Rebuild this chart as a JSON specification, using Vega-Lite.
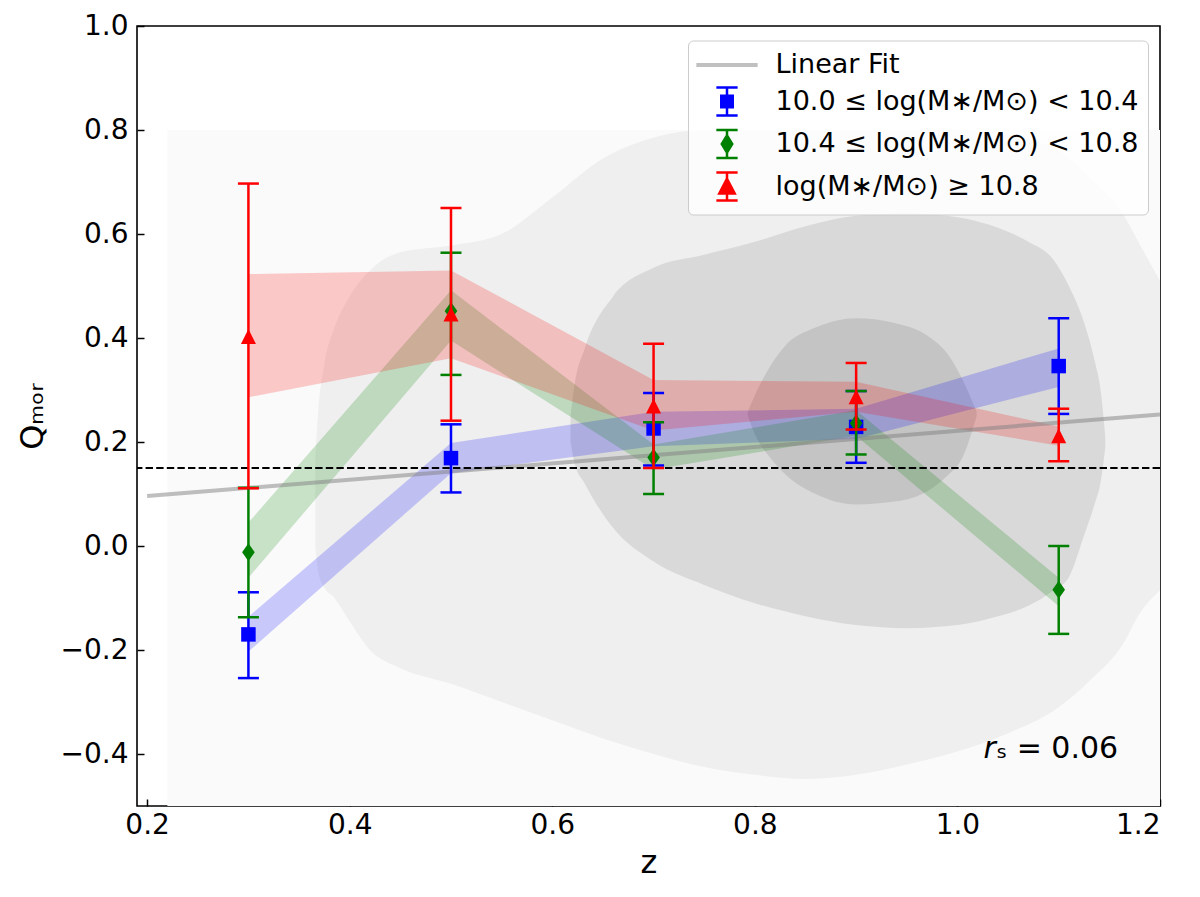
{
  "$schema": "https://vega.github.io/schema/vega-lite/v6.json",
  "width": 1023,
  "height": 780,
  "autosize": {"type": "none"},
  "padding": {"left": 137, "top": 26, "right": 40, "bottom": 91},
  "background": "white",
  "config": {
    "view": {"stroke": "black", "strokeWidth": 1.6},
    "font": "DejaVu Sans",
    "axis": {
      "domain": false, "grid": false, "tickSize": -7, "tickWidth": 1.5, "tickColor": "black",
      "labelFont": "DejaVu Sans", "labelFontSize": 28, "labelColor": "black",
      "titleFont": "DejaVu Sans", "titleFontSize": 32, "titleFontWeight": "normal", "titleColor": "black"
    },
    "axisX": {"labelPadding": 12},
    "axisY": {"labelPadding": 16}
  },
  "datasets": {
    "contours": [
      {"level": 1, "z": 0.22, "top": 0.8, "bot": -0.5},
      {"level": 1, "z": 1.2, "top": 0.8, "bot": -0.5},
      {"level": 2, "z": 0.366, "top": 0.17, "bot": 0.0},
      {"level": 2, "z": 0.369, "top": 0.26, "bot": -0.05},
      {"level": 2, "z": 0.375, "top": 0.35, "bot": -0.08},
      {"level": 2, "z": 0.385, "top": 0.42, "bot": -0.10},
      {"level": 2, "z": 0.40, "top": 0.48, "bot": -0.145},
      {"level": 2, "z": 0.42, "top": 0.53, "bot": -0.20},
      {"level": 2, "z": 0.45, "top": 0.565, "bot": -0.235},
      {"level": 2, "z": 0.50, "top": 0.578, "bot": -0.265},
      {"level": 2, "z": 0.55, "top": 0.60, "bot": -0.30},
      {"level": 2, "z": 0.60, "top": 0.67, "bot": -0.335},
      {"level": 2, "z": 0.65, "top": 0.745, "bot": -0.37},
      {"level": 2, "z": 0.70, "top": 0.785, "bot": -0.40},
      {"level": 2, "z": 0.75, "top": 0.80, "bot": -0.425},
      {"level": 2, "z": 0.80, "top": 0.80, "bot": -0.44},
      {"level": 2, "z": 0.85, "top": 0.80, "bot": -0.448},
      {"level": 2, "z": 0.90, "top": 0.80, "bot": -0.44},
      {"level": 2, "z": 0.95, "top": 0.80, "bot": -0.42},
      {"level": 2, "z": 1.00, "top": 0.80, "bot": -0.395},
      {"level": 2, "z": 1.05, "top": 0.79, "bot": -0.36},
      {"level": 2, "z": 1.10, "top": 0.76, "bot": -0.31},
      {"level": 2, "z": 1.13, "top": 0.71, "bot": -0.26},
      {"level": 2, "z": 1.163, "top": 0.64, "bot": -0.19},
      {"level": 2, "z": 1.18, "top": 0.58, "bot": -0.13},
      {"level": 2, "z": 1.20, "top": 0.51, "bot": -0.085},
      {"level": 3, "z": 0.618, "top": 0.25, "bot": 0.20},
      {"level": 3, "z": 0.622, "top": 0.31, "bot": 0.16},
      {"level": 3, "z": 0.632, "top": 0.38, "bot": 0.12},
      {"level": 3, "z": 0.66, "top": 0.48, "bot": 0.035},
      {"level": 3, "z": 0.70, "top": 0.535, "bot": -0.03},
      {"level": 3, "z": 0.75, "top": 0.56, "bot": -0.075},
      {"level": 3, "z": 0.80, "top": 0.585, "bot": -0.11},
      {"level": 3, "z": 0.85, "top": 0.615, "bot": -0.135},
      {"level": 3, "z": 0.90, "top": 0.635, "bot": -0.152},
      {"level": 3, "z": 0.95, "top": 0.64, "bot": -0.158},
      {"level": 3, "z": 1.00, "top": 0.632, "bot": -0.152},
      {"level": 3, "z": 1.04, "top": 0.612, "bot": -0.135},
      {"level": 3, "z": 1.07, "top": 0.585, "bot": -0.115},
      {"level": 3, "z": 1.095, "top": 0.55, "bot": -0.085},
      {"level": 3, "z": 1.11, "top": 0.50, "bot": -0.06},
      {"level": 3, "z": 1.125, "top": 0.43, "bot": 0.02},
      {"level": 3, "z": 1.135, "top": 0.36, "bot": 0.078},
      {"level": 3, "z": 1.142, "top": 0.29, "bot": 0.13},
      {"level": 3, "z": 1.146, "top": 0.21, "bot": 0.19},
      {"level": 4, "z": 0.793, "top": 0.258, "bot": 0.25},
      {"level": 4, "z": 0.80, "top": 0.29, "bot": 0.215},
      {"level": 4, "z": 0.815, "top": 0.345, "bot": 0.17},
      {"level": 4, "z": 0.83, "top": 0.385, "bot": 0.138},
      {"level": 4, "z": 0.86, "top": 0.42, "bot": 0.10},
      {"level": 4, "z": 0.90, "top": 0.438, "bot": 0.08},
      {"level": 4, "z": 0.94, "top": 0.428, "bot": 0.086},
      {"level": 4, "z": 0.97, "top": 0.405, "bot": 0.105},
      {"level": 4, "z": 0.99, "top": 0.37, "bot": 0.135},
      {"level": 4, "z": 1.005, "top": 0.32, "bot": 0.17},
      {"level": 4, "z": 1.019, "top": 0.258, "bot": 0.25}
    ],
    "bands": [
      {"series": "10.0 ≤ log(M∗/M⊙) < 10.4", "z": 0.3, "lo": -0.203, "hi": -0.136},
      {"series": "10.0 ≤ log(M∗/M⊙) < 10.4", "z": 0.5, "lo": 0.140, "hi": 0.198},
      {"series": "10.0 ≤ log(M∗/M⊙) < 10.4", "z": 0.7, "lo": 0.192, "hi": 0.258},
      {"series": "10.0 ≤ log(M∗/M⊙) < 10.4", "z": 0.9, "lo": 0.206, "hi": 0.264},
      {"series": "10.0 ≤ log(M∗/M⊙) < 10.4", "z": 1.1, "lo": 0.306, "hi": 0.380},
      {"series": "10.4 ≤ log(M∗/M⊙) < 10.8", "z": 0.3, "lo": -0.061, "hi": 0.045},
      {"series": "10.4 ≤ log(M∗/M⊙) < 10.8", "z": 0.5, "lo": 0.395, "hi": 0.492},
      {"series": "10.4 ≤ log(M∗/M⊙) < 10.8", "z": 0.7, "lo": 0.147, "hi": 0.195},
      {"series": "10.4 ≤ log(M∗/M⊙) < 10.8", "z": 0.9, "lo": 0.212, "hi": 0.261},
      {"series": "10.4 ≤ log(M∗/M⊙) < 10.8", "z": 1.1, "lo": -0.116, "hi": -0.061},
      {"series": "log(M∗/M⊙) ≥ 10.8", "z": 0.3, "lo": 0.286, "hi": 0.523},
      {"series": "log(M∗/M⊙) ≥ 10.8", "z": 0.5, "lo": 0.361, "hi": 0.530},
      {"series": "log(M∗/M⊙) ≥ 10.8", "z": 0.7, "lo": 0.222, "hi": 0.319},
      {"series": "log(M∗/M⊙) ≥ 10.8", "z": 0.9, "lo": 0.258, "hi": 0.316},
      {"series": "log(M∗/M⊙) ≥ 10.8", "z": 1.1, "lo": 0.193, "hi": 0.230}
    ],
    "points": [
      {"series": "10.0 ≤ log(M∗/M⊙) < 10.4", "z": 0.3, "q": -0.170, "lo": -0.254, "hi": -0.089},
      {"series": "10.0 ≤ log(M∗/M⊙) < 10.4", "z": 0.5, "q": 0.169, "lo": 0.103, "hi": 0.234},
      {"series": "10.0 ≤ log(M∗/M⊙) < 10.4", "z": 0.7, "q": 0.226, "lo": 0.155, "hi": 0.294},
      {"series": "10.0 ≤ log(M∗/M⊙) < 10.4", "z": 0.9, "q": 0.229, "lo": 0.160, "hi": 0.298},
      {"series": "10.0 ≤ log(M∗/M⊙) < 10.4", "z": 1.1, "q": 0.346, "lo": 0.254, "hi": 0.438},
      {"series": "10.4 ≤ log(M∗/M⊙) < 10.8", "z": 0.3, "q": -0.012, "lo": -0.137, "hi": 0.112},
      {"series": "10.4 ≤ log(M∗/M⊙) < 10.8", "z": 0.5, "q": 0.452, "lo": 0.329, "hi": 0.564},
      {"series": "10.4 ≤ log(M∗/M⊙) < 10.8", "z": 0.7, "q": 0.170, "lo": 0.100, "hi": 0.238},
      {"series": "10.4 ≤ log(M∗/M⊙) < 10.8", "z": 0.9, "q": 0.236, "lo": 0.176, "hi": 0.298},
      {"series": "10.4 ≤ log(M∗/M⊙) < 10.8", "z": 1.1, "q": -0.084, "lo": -0.169, "hi": 0.000},
      {"series": "log(M∗/M⊙) ≥ 10.8", "z": 0.3, "q": 0.403, "lo": 0.111, "hi": 0.697},
      {"series": "log(M∗/M⊙) ≥ 10.8", "z": 0.5, "q": 0.446, "lo": 0.241, "hi": 0.650},
      {"series": "log(M∗/M⊙) ≥ 10.8", "z": 0.7, "q": 0.269, "lo": 0.150, "hi": 0.389},
      {"series": "log(M∗/M⊙) ≥ 10.8", "z": 0.9, "q": 0.287, "lo": 0.224, "hi": 0.352},
      {"series": "log(M∗/M⊙) ≥ 10.8", "z": 1.1, "q": 0.212, "lo": 0.163, "hi": 0.264}
    ],
    "fit": [
      {"z": 0.2, "q": 0.096},
      {"z": 1.2, "q": 0.253}
    ]
  },
  "layer": [
    {
      "data": {"name": "contours"},
      "transform": [{"filter": "datum.level == 1"}],
      "mark": {"type": "area", "color": "#fafafa", "clip": true},
      "encoding": {
        "x": {"field": "z", "type": "quantitative", "scale": {"domain": [0.19, 1.2], "nice": false, "zero": false},
              "axis": {"title": "z", "values": [0.2, 0.4, 0.6, 0.8, 1.0, 1.2], "format": ".1f", "titleY": 66, "titleBaseline": "alphabetic"}},
        "y": {"field": "top", "type": "quantitative", "scale": {"domain": [-0.5, 1.0], "nice": false, "zero": false},
              "axis": {"title": "Qₘₒᵣ", "values": [-0.4, -0.2, 0, 0.2, 0.4, 0.6, 0.8, 1.0], "format": ".1f", "titleX": -95, "titleY": 390, "titleAngle": -90, "titleAlign": "center", "titleBaseline": "alphabetic"}},
        "y2": {"field": "bot"}
      }
    },
    {
      "data": {"name": "contours"},
      "transform": [{"filter": "datum.level == 2"}],
      "mark": {"type": "area", "color": "#efefef", "interpolate": "monotone", "clip": true},
      "encoding": {
        "x": {"field": "z", "type": "quantitative", "scale": {"domain": [0.19, 1.2], "nice": false, "zero": false}},
        "y": {"field": "top", "type": "quantitative", "scale": {"domain": [-0.5, 1.0], "nice": false, "zero": false}},
        "y2": {"field": "bot"}
      }
    },
    {
      "data": {"name": "contours"},
      "transform": [{"filter": "datum.level == 3"}],
      "mark": {"type": "area", "color": "#d9d9d9", "interpolate": "monotone", "clip": true},
      "encoding": {
        "x": {"field": "z", "type": "quantitative", "scale": {"domain": [0.19, 1.2], "nice": false, "zero": false}},
        "y": {"field": "top", "type": "quantitative", "scale": {"domain": [-0.5, 1.0], "nice": false, "zero": false}},
        "y2": {"field": "bot"}
      }
    },
    {
      "data": {"name": "contours"},
      "transform": [{"filter": "datum.level == 4"}],
      "mark": {"type": "area", "color": "#c4c4c4", "interpolate": "monotone", "clip": true},
      "encoding": {
        "x": {"field": "z", "type": "quantitative", "scale": {"domain": [0.19, 1.2], "nice": false, "zero": false}},
        "y": {"field": "top", "type": "quantitative", "scale": {"domain": [-0.5, 1.0], "nice": false, "zero": false}},
        "y2": {"field": "bot"}
      }
    },
    {
      "data": {"name": "bands"},
      "mark": {"type": "area", "opacity": 0.2},
      "encoding": {
        "x": {"field": "z", "type": "quantitative", "scale": {"domain": [0.19, 1.2], "nice": false, "zero": false}},
        "y": {"field": "hi", "type": "quantitative", "scale": {"domain": [-0.5, 1.0], "nice": false, "zero": false}},
        "y2": {"field": "lo"},
        "fill": {"field": "series", "type": "nominal", "legend": null,
                 "scale": {"domain": ["10.0 ≤ log(M∗/M⊙) < 10.4", "10.4 ≤ log(M∗/M⊙) < 10.8", "log(M∗/M⊙) ≥ 10.8"], "range": ["#0000ff", "#008000", "#ff0000"]}}
      }
    },
    {
      "data": {"name": "fit"},
      "mark": {"type": "line", "color": "gray", "opacity": 0.5, "strokeWidth": 4, "clip": true},
      "encoding": {
        "x": {"field": "z", "type": "quantitative", "scale": {"domain": [0.19, 1.2], "nice": false, "zero": false}},
        "y": {"field": "q", "type": "quantitative", "scale": {"domain": [-0.5, 1.0], "nice": false, "zero": false}}
      }
    },
    {
      "data": {"values": [{}]},
      "mark": {"type": "rule", "color": "black", "strokeWidth": 1.8, "strokeDash": [7.4, 3.2]},
      "encoding": {"y": {"datum": 0.15, "type": "quantitative"}}
    },
    {
      "data": {"name": "points"},
      "transform": [{"filter": "datum.series == '10.0 ≤ log(M∗/M⊙) < 10.4'"}],
      "layer": [
        {"mark": {"type": "rule", "color": "#0000ff", "strokeWidth": 2.5},
         "encoding": {"x": {"field": "z", "type": "quantitative"}, "y": {"field": "lo", "type": "quantitative"}, "y2": {"field": "hi"}}},
        {"mark": {"type": "tick", "orient": "horizontal", "color": "#0000ff", "size": 21, "thickness": 2.5, "opacity": 1},
         "encoding": {"x": {"field": "z", "type": "quantitative"}, "y": {"field": "lo", "type": "quantitative"}}},
        {"mark": {"type": "tick", "orient": "horizontal", "color": "#0000ff", "size": 21, "thickness": 2.5, "opacity": 1},
         "encoding": {"x": {"field": "z", "type": "quantitative"}, "y": {"field": "hi", "type": "quantitative"}}},
        {"mark": {"type": "point", "shape": "square", "filled": true, "size": 210, "color": "#0000ff", "opacity": 1},
         "encoding": {"x": {"field": "z", "type": "quantitative"}, "y": {"field": "q", "type": "quantitative"}}}
      ]
    },
    {
      "data": {"name": "points"},
      "transform": [{"filter": "datum.series == '10.4 ≤ log(M∗/M⊙) < 10.8'"}],
      "layer": [
        {"mark": {"type": "rule", "color": "#008000", "strokeWidth": 2.5},
         "encoding": {"x": {"field": "z", "type": "quantitative"}, "y": {"field": "lo", "type": "quantitative"}, "y2": {"field": "hi"}}},
        {"mark": {"type": "tick", "orient": "horizontal", "color": "#008000", "size": 21, "thickness": 2.5, "opacity": 1},
         "encoding": {"x": {"field": "z", "type": "quantitative"}, "y": {"field": "lo", "type": "quantitative"}}},
        {"mark": {"type": "tick", "orient": "horizontal", "color": "#008000", "size": 21, "thickness": 2.5, "opacity": 1},
         "encoding": {"x": {"field": "z", "type": "quantitative"}, "y": {"field": "hi", "type": "quantitative"}}},
        {"mark": {"type": "point", "shape": "M0,-1L0.7,0L0,1L-0.7,0Z", "filled": true, "size": 324, "color": "#008000", "opacity": 1},
         "encoding": {"x": {"field": "z", "type": "quantitative"}, "y": {"field": "q", "type": "quantitative"}}}
      ]
    },
    {
      "data": {"name": "points"},
      "transform": [{"filter": "datum.series == 'log(M∗/M⊙) ≥ 10.8'"}],
      "layer": [
        {"mark": {"type": "rule", "color": "#ff0000", "strokeWidth": 2.5},
         "encoding": {"x": {"field": "z", "type": "quantitative"}, "y": {"field": "lo", "type": "quantitative"}, "y2": {"field": "hi"}}},
        {"mark": {"type": "tick", "orient": "horizontal", "color": "#ff0000", "size": 21, "thickness": 2.5, "opacity": 1},
         "encoding": {"x": {"field": "z", "type": "quantitative"}, "y": {"field": "lo", "type": "quantitative"}}},
        {"mark": {"type": "tick", "orient": "horizontal", "color": "#ff0000", "size": 21, "thickness": 2.5, "opacity": 1},
         "encoding": {"x": {"field": "z", "type": "quantitative"}, "y": {"field": "hi", "type": "quantitative"}}},
        {"mark": {"type": "point", "shape": "M0,-1L1,1L-1,1Z", "filled": true, "size": 225, "color": "#ff0000", "opacity": 1},
         "encoding": {"x": {"field": "z", "type": "quantitative"}, "y": {"field": "q", "type": "quantitative"}}}
      ]
    },
    {
      "data": {"values": []},
      "mark": {"type": "point", "filled": true},
      "encoding": {
        "x": {"field": "z", "type": "quantitative"},
        "y": {"field": "q", "type": "quantitative"},
        "color": {"field": "series", "type": "nominal",
                  "scale": {"domain": ["Linear Fit", "10.0 ≤ log(M∗/M⊙) < 10.4", "10.4 ≤ log(M∗/M⊙) < 10.8", "log(M∗/M⊙) ≥ 10.8"], "range": ["#c0c0c0", "#0000ff", "#008000", "#ff0000"]},
                  "legend": {"title": null, "orient": "none", "legendX": 551, "legendY": 14.5, "padding": 9,
                             "fillColor": "rgba(255,255,255,0.8)", "strokeColor": "#cccccc", "cornerRadius": 5,
                             "labelFont": "DejaVu Sans", "labelFontSize": 27, "labelColor": "black", "labelLimit": 600,
                             "labelOffset": 33, "symbolOffset": 14.5, "symbolSize": 784, "symbolStrokeWidth": 2.5,
                             "symbolOpacity": 1, "rowPadding": 3.5,
                             "encoding": {"symbols": {"stroke": {"value": {"expr": "scale('color', datum.value)"}}}}}},
        "shape": {"field": "series", "type": "nominal",
                  "scale": {"domain": ["Linear Fit", "10.0 ≤ log(M∗/M⊙) < 10.4", "10.4 ≤ log(M∗/M⊙) < 10.8", "log(M∗/M⊙) ≥ 10.8"],
                            "range": ["M-2.1,-0.05H2.1V0.05H-2.1Z",
                                      "M-0.41,-0.41H0.41V0.41H-0.41Z M0,-1V1 M-0.76,-1H0.76 M-0.76,1H0.76",
                                      "M0,-0.62L0.375,0L0,0.62L-0.375,0Z M0,-1V1 M-0.76,-1H0.76 M-0.76,1H0.76",
                                      "M0,-0.55L0.55,0.5L-0.55,0.5Z M0,-1V1 M-0.76,-1H0.76 M-0.76,1H0.76"]},
                  "legend": {"title": null, "orient": "none", "legendX": 551, "legendY": 14.5, "padding": 9,
                             "fillColor": "rgba(255,255,255,0.8)", "strokeColor": "#cccccc", "cornerRadius": 5,
                             "labelFont": "DejaVu Sans", "labelFontSize": 27, "labelColor": "black", "labelLimit": 600,
                             "labelOffset": 33, "symbolOffset": 14.5, "symbolSize": 784, "symbolStrokeWidth": 2.5,
                             "symbolOpacity": 1, "rowPadding": 3.5,
                             "encoding": {"symbols": {"stroke": {"value": {"expr": "scale('color', datum.value)"}}}}}}
      }
    },
    {
      "data": {"values": [{}]},
      "mark": {"type": "text", "text": "r", "font": "DejaVu Sans", "fontStyle": "italic", "fontSize": 30, "align": "right", "baseline": "alphabetic", "color": "black"},
      "encoding": {"x": {"datum": 1.038, "type": "quantitative"}, "y": {"datum": -0.407, "type": "quantitative"}}
    },
    {
      "data": {"values": [{}]},
      "mark": {"type": "text", "text": "ₛ = 0.06", "font": "DejaVu Sans", "fontSize": 30, "align": "left", "baseline": "alphabetic", "color": "black"},
      "encoding": {"x": {"datum": 1.038, "type": "quantitative"}, "y": {"datum": -0.407, "type": "quantitative"}}
    }
  ]
}
